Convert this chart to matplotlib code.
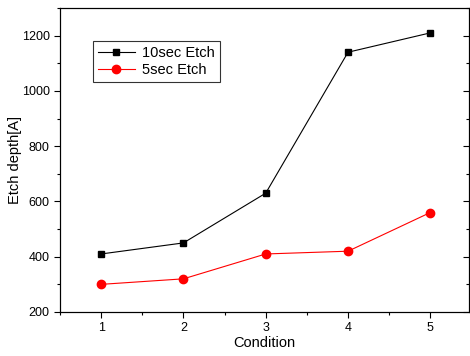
import numpy as np
import matplotlib
matplotlib.use('Agg')
import matplotlib.pyplot as plt
from matplotlib.ticker import MultipleLocator

plt.rcParams['font.family'] = ['Liberation Sans', 'DejaVu Sans']

# Data
condition = [1, 2, 3, 4, 5]
etch_10sec = [410, 450, 630, 1140, 1210]
etch_5sec = [300, 320, 410, 420, 560]

fig = plt.figure(figsize=(4.7, 3.56), dpi=100)
ax = fig.add_axes([60/470, 44/356, 409/470, 304/356])

ax.plot(condition, etch_10sec, color='black', lw=0.8, marker='s', ms=5, label='10sec Etch')
ax.plot(condition, etch_5sec, color='red', lw=0.8, marker='o', ms=6, label='5sec Etch')

ax.set_xlim(0.5, 5.47)
ax.set_ylim(200, 1300)
ax.xaxis.set_major_locator(MultipleLocator(1))
ax.xaxis.set_minor_locator(MultipleLocator(0.5))
ax.yaxis.set_major_locator(MultipleLocator(200))
ax.yaxis.set_minor_locator(MultipleLocator(100))

ax.tick_params(axis='x', which='both', direction='out', top=False, labelsize=9)
ax.tick_params(axis='y', which='both', direction='out', labelsize=9)
ax.tick_params(which='major', length=4, width=0.8)
ax.tick_params(which='minor', length=2.5, width=0.8)

# right side inward ticks
ax2 = ax.twinx()
ax2.set_ylim(ax.get_ylim())
ax2.yaxis.set_major_locator(MultipleLocator(200))
ax2.yaxis.set_minor_locator(MultipleLocator(100))
ax2.tick_params(axis='y', which='both', direction='in', labelright=False)
ax2.tick_params(which='major', length=4, width=0.8)
ax2.tick_params(which='minor', length=2.5, width=0.8)

ax.set_xlabel('Condition', fontsize=10.5, labelpad=1)
ax.set_ylabel('Etch depth[A]', fontsize=10.5)
ax.yaxis.set_label_coords(-0.092, 0.5)

leg = ax.legend(loc='upper left', bbox_to_anchor=(0.081, 0.891), fontsize=10.5,
                frameon=True, fancybox=False, edgecolor='black', handlelength=2.5,
                borderpad=0.35, labelspacing=0.2, handletextpad=0.5, borderaxespad=0)
leg.get_frame().set_linewidth(0.8)

fig.savefig('out.png', dpi=100)
